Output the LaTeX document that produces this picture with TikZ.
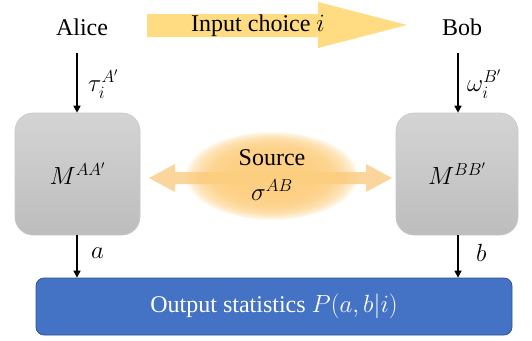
\documentclass[tikz,border=0pt]{standalone}
\usepackage{fontspec}
\setmainfont{Liberation Serif}[Ligatures=TeX]
\usetikzlibrary{arrows.meta}
\definecolor{glowc}{HTML}{FDCE80}
\definecolor{sarrow}{HTML}{FBD69C}
\definecolor{yarrow}{HTML}{FFDC82}
\definecolor{boxtop}{HTML}{D4D4D4}
\definecolor{boxbot}{HTML}{BDBDBD}
\definecolor{boxline}{HTML}{C8C8C8}
\definecolor{outfill}{HTML}{4472C4}
\definecolor{outline}{HTML}{2F528F}
\begin{document}
\begin{tikzpicture}[x=1pt,y=1pt,
  txt/.style={font=\fontsize{24}{28}\selectfont, inner sep=0pt},
  mbox/.style={rounded corners=18pt, top color=boxtop, bottom color=boxbot, draw=boxline, line width=0.6pt, inner sep=0pt, font=\fontsize{25}{28}\selectfont},
  arr/.style={line width=1.5pt, -{Triangle[length=7pt,width=7pt]}},
  lbl/.style={font=\fontsize{24}{28}\selectfont, inner sep=0pt, anchor=west},
  glowlayer/.style={fill=glowc, opacity=0.15}]
\useasboundingbox (0,0) rectangle (532,-340);
% names
\node[txt] (alice) at (82,-27) {Alice};
\node[txt] (bob) at (462,-27) {Bob};
% input choice arrow
\fill[yarrow] (147,-14) -- (318,-14) -- (318,-2) -- (407,-25) -- (318,-48) -- (318,-37) -- (147,-37) -- cycle;
\node[txt] (input) at (258,-26) {Input choice $i$};
% boxes
\node[mbox, minimum width=125pt, minimum height=122pt] (mA) at (77.5,-174) {$M^{AA^{\prime}}$};
\node[mbox, minimum width=122pt, minimum height=122pt] (mB) at (457,-174) {$M^{BB^{\prime}}$};
% source double arrow and glow
\fill[sarrow] (149,-178) -- (175,-164) -- (175,-172) -- (366,-172) -- (366,-164) -- (392,-178) -- (366,-192) -- (366,-184) -- (175,-184) -- (175,-192) -- cycle;
\foreach \k in {0,...,24} {
  \path[glowlayer] (272,-176) ellipse [x radius={86-2.3*\k}, y radius={44-1.15*\k}];
}
\node[txt] (source) at (272,-158) {Source};
\node[txt] (sigma) at (272,-190) {$\sigma^{AB}$};
% output box
\node[rounded corners=8pt, fill=outfill, draw=outline, line width=0.75pt, minimum width=476pt, minimum height=57pt, text=white, font=\fontsize{24}{28}\selectfont] (out) at (274,-306.5) {Output statistics $P(a,b|i)$};
% arrows
\coordinate (a0) at (77,-53);
\coordinate (b0) at (458,-53);
\draw[arr] (a0) -- (a0 |- mA.north);
\draw[arr] (b0) -- (b0 |- mB.north);
\draw[arr] (a0 |- mA.south) -- (a0 |- out.north);
\draw[arr] (b0 |- mB.south) -- (b0 |- out.north);
\node[lbl] (tau) at (88,-84) {$\tau_i^{A^{\prime}}$};
\node[lbl] (omega) at (467,-84) {$\omega_i^{B^{\prime}}$};
\node[lbl] (la) at (91,-253) {$a$};
\node[lbl] (lb) at (476,-253) {$b$};
\end{tikzpicture}
\end{document}
